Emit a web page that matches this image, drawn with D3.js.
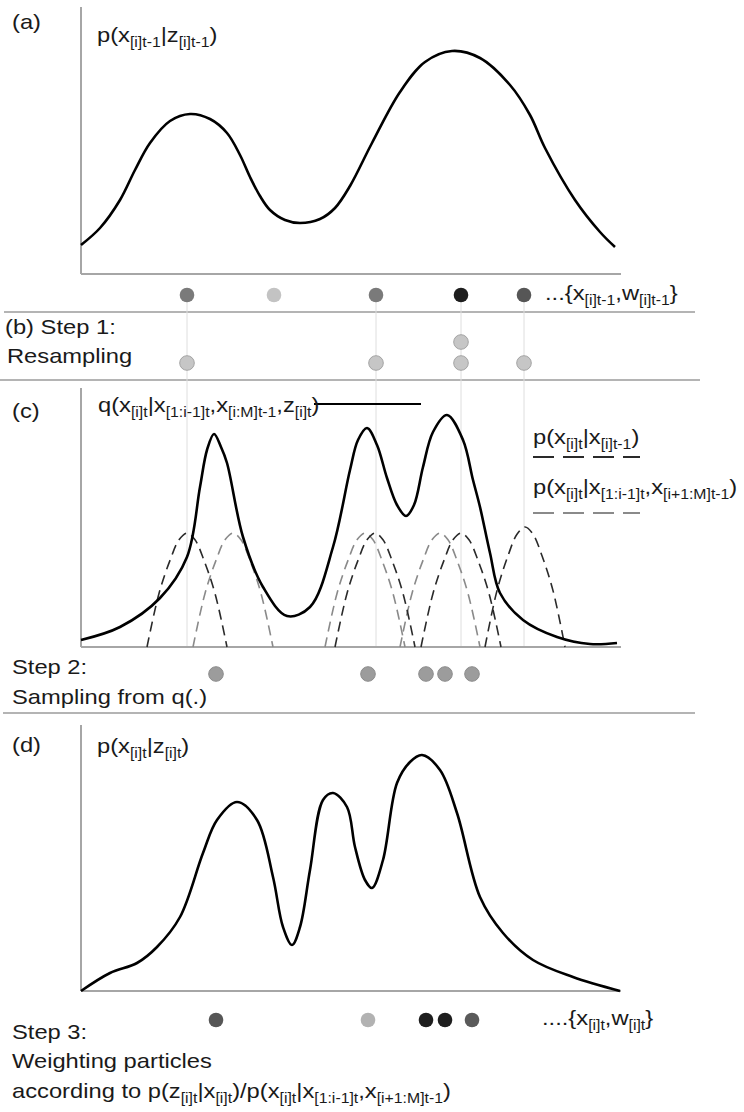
<!DOCTYPE html>
<html><head><meta charset="utf-8">
<script src="https://cdn.jsdelivr.net/npm/d3@7"></script>
<style>body{margin:0;background:#fff}svg{display:block}</style>
</head><body>
<script>
// ---------- DATA (x in state units, y in density units above each axis) ----------
// (a) posterior at t-1
const postPrevX = [0,19,39,54,69,89,109,129,146,159,169,179,189,204,219,239,254,269,291,319,344,371,399,429,449,464,494,519,534];
const postPrevY = [29,46,74,104,131,153,160,155,141,119,97,78,64,54,51,55,66,88,131,182,212,223,216,189,159,126,74,42,27];
// (c) proposal q(.)
const proposalX = [0,39,79,106,119,126,133,140,146,162,182,206,229,252,269,277,286,296,306,316,325,333,342,352,366,382,392,399,409,419,442,476,509,536];
const proposalY = [7,20,49,90,160,197,213,200,184,110,60,31,40,100,177,207,219,202,169,142,131,142,180,215,232,207,167,140,94,54,27,10,3,4];
// (d) posterior at t
const postX = [0,29,56,76,99,122,136,156,176,192,202,211,219,229,242,252,266,274,284,291,302,316,329,341,359,376,399,422,452,492,539];
const postY = [0,18,28,44,74,138,171,189,171,114,64,46,64,121,191,198,184,144,111,103,131,208,229,236,221,178,94,58,31,14,0];
// particles
const particlesPrevX = [106,193,295,380,443];
const weightsPrev    = [0.50,0.15,0.50,0.94,0.67];
const resampledIdx   = [0,2,3,3,4];
const sampledX       = [135,287,345,364,391];
const weightsNew     = [0.67,0.23,0.94,0.94,0.65];
// dashed kernels in (c)
const kernelOffsets = [-40,-28,-17,-8,0,8,17,28,40];
const kernelShape   = [0,0.47,0.76,0.94,1,0.94,0.76,0.47,0];
const transCenters  = [106,294,380,444];   // p(x[i]t | x[i]t-1)
const transPeaks    = [114,114,114,120];
const condCenters   = [152,284,359];       // p(x[i]t | x[1:i-1]t, x[i+1:M]t-1)
const condPeaks     = [114,114,114];

// ---------- LAYOUT ----------
const W = 744, H = 1112, SX = 1.13;
const svg = d3.select("body").append("svg").attr("width", W).attr("height", H);
const FONT = "'Liberation Sans', Arial, Helvetica, sans-serif";

const x = d3.scaleLinear().domain([0,540]).range([81,621]);
const yA = d3.scaleLinear().domain([0,267]).range([274,7]);
const yC = d3.scaleLinear().domain([0,259]).range([647,388]);
const yD = d3.scaleLinear().domain([0,266]).range([991,725]);
const gray = d3.scaleLinear().domain([0,1]).range(["#e2e2e2","#111111"]);

function rich(px, py, str, opts={}) {
  const size = opts.size || 21, sub = opts.sub || 14;
  const t = svg.append("text")
    .attr("transform", `translate(${px},${py}) scale(${SX},1)`)
    .attr("font-family", FONT).attr("font-size", size).attr("fill", "#1a1a1a");
  const parts = str.split(/_\{([^}]*)\}/);
  let prevSub = false;
  parts.forEach((p, i) => {
    if (!p) return;
    const isSub = i % 2 === 1;
    const ts = t.append("tspan").text(p).attr("font-size", isSub ? sub : size);
    if (isSub && !prevSub) ts.attr("dy", 5);
    if (!isSub && prevSub) ts.attr("dy", -5);
    prevSub = isSub;
  });
  return t;
}

function hline(y, x1, x2, color, w) {
  svg.append("line").attr("x1", x1).attr("x2", x2).attr("y1", y).attr("y2", y)
    .attr("stroke", color).attr("stroke-width", w);
}
function vline(xx, y1, y2, color, w) {
  svg.append("line").attr("x1", xx).attr("x2", xx).attr("y1", y1).attr("y2", y2)
    .attr("stroke", color).attr("stroke-width", w);
}

// separators
hline(312, 4, 695, "#b4b4b4", 2);
hline(380, 0, 700, "#b4b4b4", 2);
hline(713, 3, 695, "#b4b4b4", 2);

// guide lines from (a) particles down through (c)
const guideX = Array.from(new Set(resampledIdx.map(i => particlesPrevX[i])));
guideX.forEach(v => vline(x(v), 295, 647, "#dedede", 1));

// axes
function axes(yScale) {
  const [y0, y1] = yScale.range();
  vline(x(0), y1, y0, "#a6a6a6", 2);
  hline(y0, x(0), x(540), "#a6a6a6", 2);
}
axes(yA); axes(yC); axes(yD);

const mk = (ys) => d3.line().x(d => x(d[0])).y(d => ys(d[1])).curve(d3.curveCatmullRom.alpha(0.5));

// (c) dashed kernels
function kernel(center, peak) {
  return kernelOffsets.map((o, i) => [center + o, kernelShape[i] * peak]);
}
condCenters.forEach((c, i) => {
  svg.append("path").attr("d", mk(yC)(kernel(c, condPeaks[i])))
    .attr("fill", "none").attr("stroke", "#8a8a8a").attr("stroke-width", 1.6).attr("stroke-dasharray", "10,6");
});
transCenters.forEach((c, i) => {
  svg.append("path").attr("d", mk(yC)(kernel(c, transPeaks[i])))
    .attr("fill", "none").attr("stroke", "#2a2a2a").attr("stroke-width", 1.6).attr("stroke-dasharray", "10,6");
});

// solid curves
const solid = (X, Y, ys) => svg.append("path").attr("d", mk(ys)(X.map((v, i) => [v, Y[i]])))
  .attr("fill", "none").attr("stroke", "#000").attr("stroke-width", 2.6).attr("stroke-linejoin", "round");
solid(postPrevX, postPrevY, yA);
solid(proposalX, proposalY, yC);
solid(postX, postY, yD);

// particles
const R = 7.3;
particlesPrevX.forEach((v, i) => svg.append("circle").attr("cx", x(v)).attr("cy", 295).attr("r", R).attr("fill", gray(weightsPrev[i])));
const counts = {};
resampledIdx.forEach(idx => {
  const k = counts[idx] || 0; counts[idx] = k + 1;
  svg.append("circle").attr("cx", x(particlesPrevX[idx])).attr("cy", 363 - k * 21).attr("r", R)
    .attr("fill", "#c6c6c6").attr("stroke", "#a4a4a4").attr("stroke-width", 1);
});
sampledX.forEach(v => svg.append("circle").attr("cx", x(v)).attr("cy", 674).attr("r", R)
  .attr("fill", "#9c9c9c").attr("stroke", "#8c8c8c").attr("stroke-width", 1));
sampledX.forEach((v, i) => svg.append("circle").attr("cx", x(v)).attr("cy", 1020).attr("r", R).attr("fill", gray(weightsNew[i])));

// legend in (c)
hline(404, 314, 421, "#000", 2);
svg.append("line").attr("x1", 533).attr("x2", 640).attr("y1", 457).attr("y2", 457)
  .attr("stroke", "#2a2a2a").attr("stroke-width", 2.2).attr("stroke-dasharray", "21,9");
svg.append("line").attr("x1", 533).attr("x2", 640).attr("y1", 513).attr("y2", 513)
  .attr("stroke", "#8a8a8a").attr("stroke-width", 2.2).attr("stroke-dasharray", "21,9");

// texts
rich(12, 29, "(a)");
rich(97, 42, "p(x_{[i]t-1}|z_{[i]t-1})");
rich(545, 300, "...{x_{[i]t-1},w_{[i]t-1}}");
rich(5, 334, "(b) Step 1:");
rich(7, 363, "Resampling");
rich(12, 418, "(c)");
rich(98, 412, "q(x_{[i]t}|x_{[1:i-1]t},x_{[i:M]t-1},z_{[i]t})");
rich(533, 444, "p(x_{[i]t}|x_{[i]t-1})");
rich(533, 494, "p(x_{[i]t}|x_{[1:i-1]t},x_{[i+1:M]t-1})");
rich(12, 674, "Step 2:");
rich(12, 704, "Sampling from q(.)");
rich(12, 752, "(d)");
rich(97, 753, "p(x_{[i]t}|z_{[i]t})");
rich(542, 1025, "....{x_{[i]t},w_{[i]t}}");
rich(12, 1039, "Step 3:");
rich(12, 1068, "Weighting particles");
rich(12, 1098, "according to p(z_{[i]t}|x_{[i]t})/p(x_{[i]t}|x_{[1:i-1]t},x_{[i+1:M]t-1})");
</script>
</body></html>
